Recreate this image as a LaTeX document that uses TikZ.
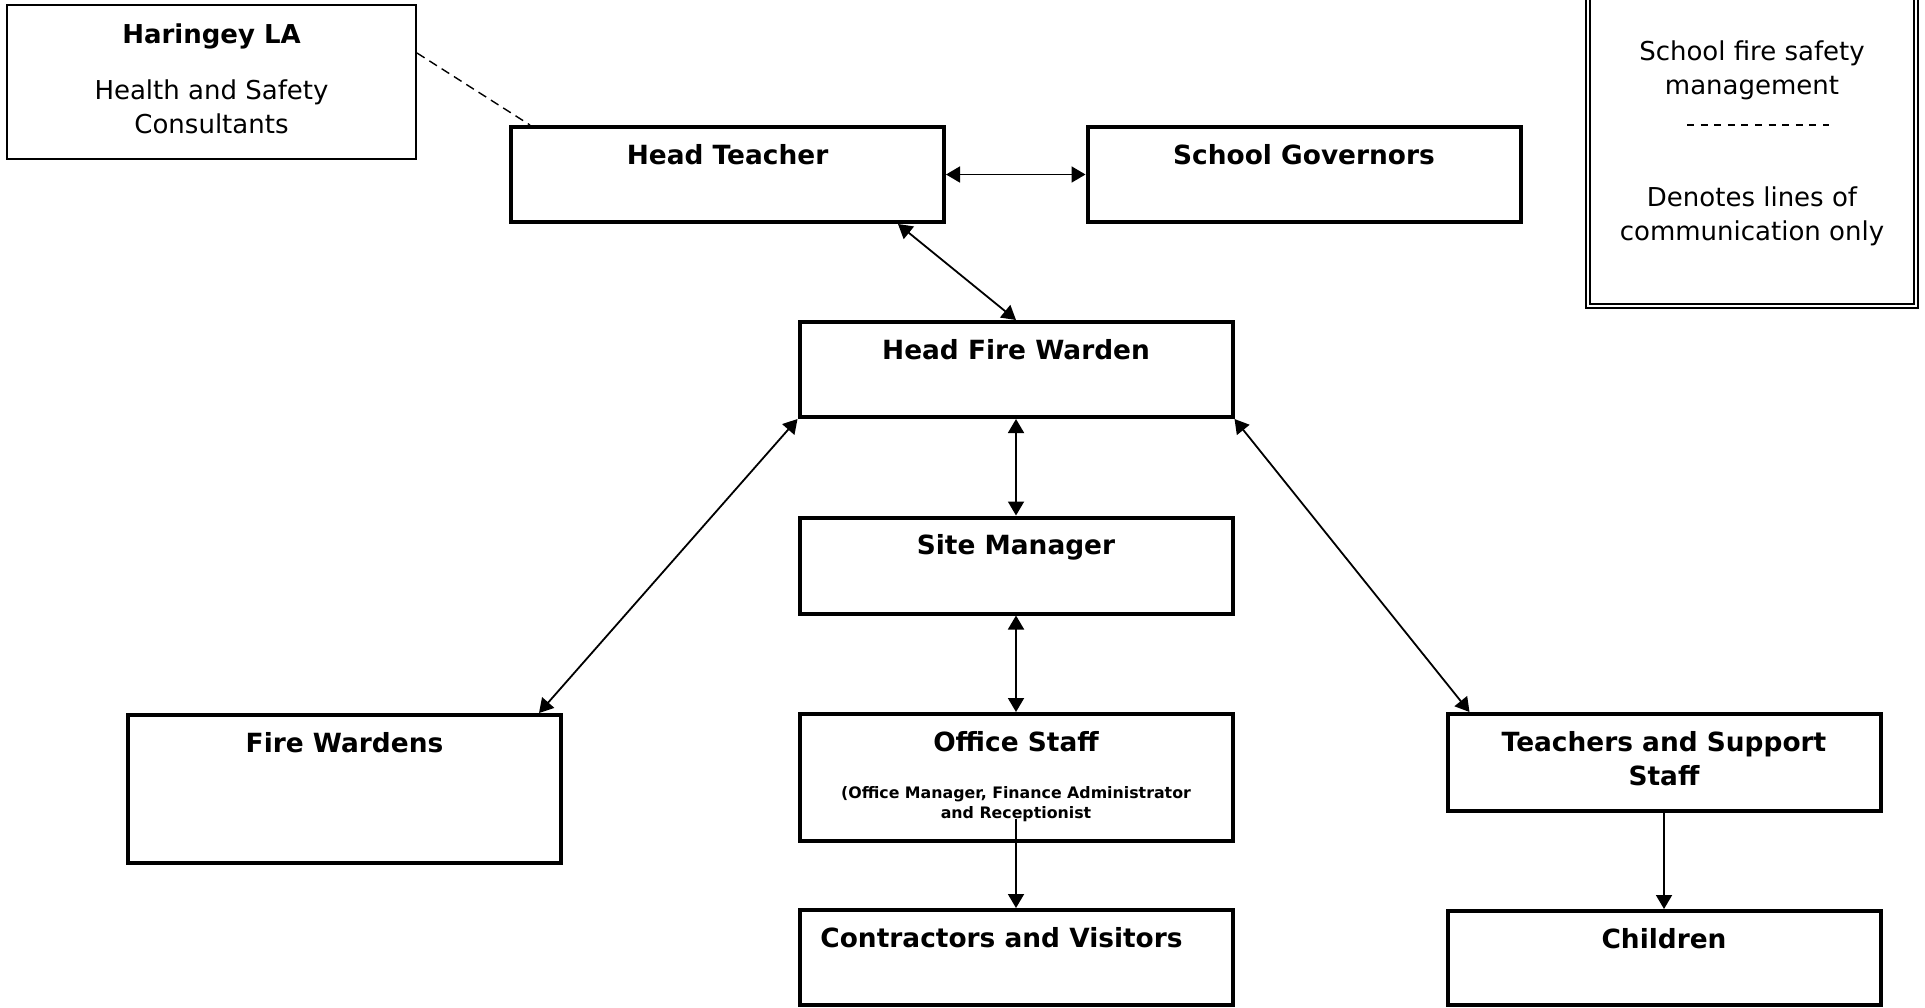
\documentclass[tikz,border=0pt]{standalone}
\usepackage{fontspec}
\setmainfont{DejaVu Sans}
\usetikzlibrary{arrows.meta}

\begin{document}
\begin{tikzpicture}[
    x=0.5pt, y=-0.5pt,
    >={Triangle[length=7pt,width=8pt]},
    block/.style={rectangle, draw, line width=2pt, minimum width=216.5pt, minimum height=47.5pt, inner sep=0pt},
    title/.style={font=\bfseries\fontsize{13.2}{17}\selectfont, align=center, inner sep=0pt},
    plain/.style={font=\fontsize{13}{17}\selectfont, align=center, inner sep=0pt},
    small/.style={font=\bfseries\fontsize{7.9}{10}\selectfont, align=center, inner sep=0pt},
    heading/.style={label={[title, anchor=base, yshift=-19.5pt]north:#1}},
    link/.style={<->, line width=0.9pt},
    arrow/.style={->, line width=0.9pt}
]
    \useasboundingbox (0,0) rectangle (1925,1007);
    \clip (0,0) rectangle (1925,1007);

    \node[block, line width=1pt, minimum width=204.5pt, minimum height=77pt,
          label={[plain, anchor=base, yshift=-64.75pt]north:{\textbf{Haringey LA}\\[11pt]Health and Safety\\Consultants}}] (la) at (211.5,82) {};
    \node[block, heading=Head Teacher] (head) at (727.5,174.5) {};
    \node[block, heading=School Governors] (gov) at (1304,174.5) {};
    \node[block, heading=Head Fire Warden] (hfw) at (1016,369.5) {};
    \node[block, heading=Site Manager, minimum height=48pt] (site) at (1016,565.5) {};
    \node[block, heading=Office Staff, minimum height=63.5pt,
          label={[small, anchor=base, yshift=-53pt]north:{(Office Manager, Finance Administrator\\and Receptionist}}] (office) at (1016,777.5) {};
    \node[block, minimum height=47.5pt,
          label={[title, anchor=base, xshift=-7.25pt, yshift=-19.5pt]north:Contractors and Visitors}] (visit) at (1016,957.5) {};
    \node[block, heading=Fire Wardens, minimum height=74pt] (fw) at (344.5,789) {};
    \node[block, minimum height=48.5pt,
          label={[title, anchor=base, yshift=-36.5pt]north:Teachers and Support\\Staff}] (staff) at (1664,762.5) {};
    \node[block, heading=Children, minimum height=47pt] (kids) at (1664,958) {};

    \node[draw, double, line width=1pt, double distance=1.3pt, minimum width=164pt, minimum height=168pt] (legend) at (1752,138) {};
    \node[plain] (legtop) at (1752,70) {School fire safety\\management};
    \coordinate (dashl) at (1687,125);
    \coordinate (dashr) at (1829,125);
    \draw[dash pattern=on 3.5pt off 3.3pt, line width=0.8pt] (dashl) -- (dashr);
    \node[plain] (legbot) at (1752,216) {Denotes lines of\\communication only};

    \draw[dash pattern=on 4.5pt off 2.8pt, line width=0.7pt] ([yshift=14.5pt]la.east) -- ([xshift=10.5pt]head.north west);
    \draw[link] (head) -- (gov);
    \draw[link] ([xshift=85.25pt]head.south) -- (hfw.north);
    \draw[link] (hfw) -- (site);
    \draw[link] (site) -- (office);
    \draw[arrow] ([yshift=12pt]office.south) -- (visit.north);
    \draw[link] (hfw.south west) -- ([xshift=-12pt]fw.north east);
    \draw[link] (hfw.south east) -- ([xshift=12pt]staff.north west);
    \draw[arrow] (staff) -- (kids);
\end{tikzpicture}
\end{document}
